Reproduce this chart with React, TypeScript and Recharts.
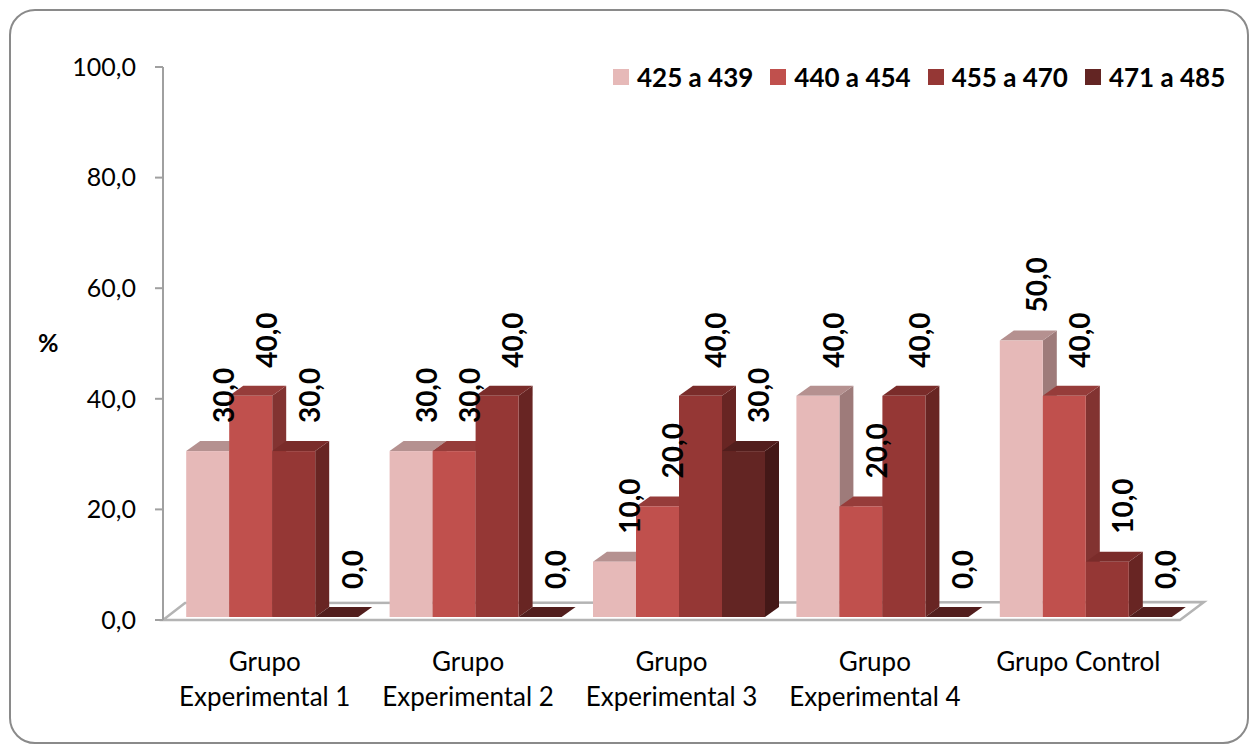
import { BarChart, Bar, XAxis, YAxis, LabelList, Legend, ReferenceArea } from 'recharts';

const categories = [
  'Grupo Experimental 1',
  'Grupo Experimental 2',
  'Grupo Experimental 3',
  'Grupo Experimental 4',
  'Grupo Control',
];
const rango425 = [30, 30, 10, 40, 50];
const rango440 = [40, 30, 20, 20, 40];
const rango455 = [30, 40, 40, 40, 10];
const rango471 = [0, 0, 30, 0, 0];
const seriesNames = ['425 a 439', '440 a 454', '455 a 470', '471 a 485'];
const yTicks = [0, 20, 40, 60, 80, 100];

const FONT = 'Lato, "Open Sans", sans-serif';

// front / top / side faces of each pseudo-3D column
const palette = [
  { front: '#E6B9B8', top: '#B59190', side: '#9E7B7A' },
  { front: '#C0504D', top: '#963C3A', side: '#823331' },
  { front: '#953735', top: '#7A2C2A', side: '#682523' },
  { front: '#632523', top: '#521E1D', side: '#441817' },
];

// depth of a column and where it sits on the floor
const DX = 14;
const DY = 10;
const SHIFT_X = 6.5;
const SHIFT_Y = -3;

const data = categories.map((name, i) => ({
  name,
  s0: rango425[i],
  s1: rango440[i],
  s2: rango455[i],
  s3: rango471[i],
}));

const fmt = (v: number) => v.toFixed(1).replace('.', ',');

function Column3D(props: any) {
  const { x, y, width, height, colors } = props;
  const x0 = x + SHIFT_X;
  const y0 = y + SHIFT_Y;
  const x1 = x0 + width;
  const y1 = y0 + Math.max(height, 0);
  return (
    <g>
      <polygon
        points={`${x1},${y0} ${x1 + DX},${y0 - DY} ${x1 + DX},${y1 - DY} ${x1},${y1}`}
        fill={colors.side}
      />
      <polygon
        points={`${x0},${y0} ${x0 + DX},${y0 - DY} ${x1 + DX},${y0 - DY} ${x1},${y0}`}
        fill={colors.top}
      />
      <rect x={x0} y={y0} width={width} height={y1 - y0} fill={colors.front} />
    </g>
  );
}

function Floor(props: any) {
  const { x, y, width, height } = props;
  const base = y + height;
  const pts = [
    [x, base],
    [x + width, base],
    [x + width + 24, base - 18],
    [x + 22, base - 17],
  ]
    .map((p) => p.join(','))
    .join(' ');
  return <polygon points={pts} fill="#fff" stroke="#B4B4B4" strokeWidth={2.5} />;
}

function ValueLabel(props: any) {
  const { x, y, width, value } = props;
  const bx = x + SHIFT_X + width / 2 + 16 + 10;
  const by = y + SHIFT_Y - 28;
  return (
    <text
      x={bx}
      y={by}
      transform={`rotate(-90 ${bx} ${by})`}
      textAnchor="start"
      fontFamily={FONT}
      fontSize={28}
      fontWeight={700}
      fill="#000"
    >
      {fmt(value)}
    </text>
  );
}

function CategoryTick(props: any) {
  const { x, y, payload } = props;
  const name: string = payload.value;
  const cut = name.indexOf(' ');
  const lines = name.length > 14 ? [name.slice(0, cut), name.slice(cut + 1)] : [name];
  return (
    <text x={x} y={y} textAnchor="middle" fontFamily={FONT} fontSize={26} fill="#000">
      {lines.map((l, i) => (
        <tspan key={i} x={x} y={y + 43 + i * 35}>
          {l}
        </tspan>
      ))}
    </text>
  );
}

function LegendBox(props: any) {
  const items = props.payload || [];
  return (
    <div style={{ display: 'flex', alignItems: 'center', fontFamily: FONT }}>
      {items.map((it: any) => (
        <div key={it.value} style={{ display: 'flex', alignItems: 'center', marginRight: 17 }}>
          <span style={{ width: 16, height: 16, background: it.color, marginRight: 8 }} />
          <span style={{ fontSize: 26, fontWeight: 700, color: '#000', lineHeight: '30px' }}>
            {it.value}
          </span>
        </div>
      ))}
    </div>
  );
}

export default function App() {
  return (
    <div style={{ position: 'absolute', left: 0, top: 0, width: 1256, height: 745, background: '#fff' }}>
      <div
        style={{
          position: 'absolute',
          left: 9,
          top: 9,
          width: 1240,
          height: 735,
          boxSizing: 'border-box',
          border: '2px solid #8A8A8A',
          borderRadius: 26,
        }}
      />
      <div style={{ position: 'absolute', left: 0, top: 0 }}>
        <BarChart
          width={1256}
          height={745}
          data={data}
          margin={{ top: 67, right: 76, bottom: 0, left: 13 }}
          barCategoryGap={16.7}
          barGap={0}
        >
          <XAxis
            dataKey="name"
            axisLine={false}
            tickLine={false}
            height={125}
            interval={0}
            tick={<CategoryTick />}
          />
          <YAxis
            width={150}
            domain={[0, 100]}
            ticks={yTicks}
            tickFormatter={fmt}
            axisLine={{ stroke: '#A0A0A0', strokeWidth: 2 }}
            tickLine={{ stroke: '#A0A0A0', strokeWidth: 2 }}
            tickSize={8}
            tickMargin={19}
            tick={{ fontFamily: FONT, fontSize: 25, fill: '#000' }}
            label={{
              value: '%',
              position: 'insideLeft',
              offset: 25,
              fontFamily: FONT,
              fontSize: 25,
              fontWeight: 700,
              fill: '#000',
            }}
          />
          <ReferenceArea y1={0} y2={3} shape={<Floor />} ifOverflow="visible" />
          <Legend
            layout="horizontal"
            verticalAlign="middle"
            align="center"
            wrapperStyle={{ top: 62, left: 613, width: 640 }}
            content={<LegendBox />}
          />
          {seriesNames.map((n, k) => (
            <Bar
              key={n}
              dataKey={`s${k}`}
              name={n}
              fill={palette[k].front}
              isAnimationActive={false}
              shape={(p: any) => <Column3D {...p} colors={palette[k]} />}
            >
              <LabelList dataKey={`s${k}`} content={<ValueLabel />} />
            </Bar>
          ))}
        </BarChart>
      </div>
    </div>
  );
}
